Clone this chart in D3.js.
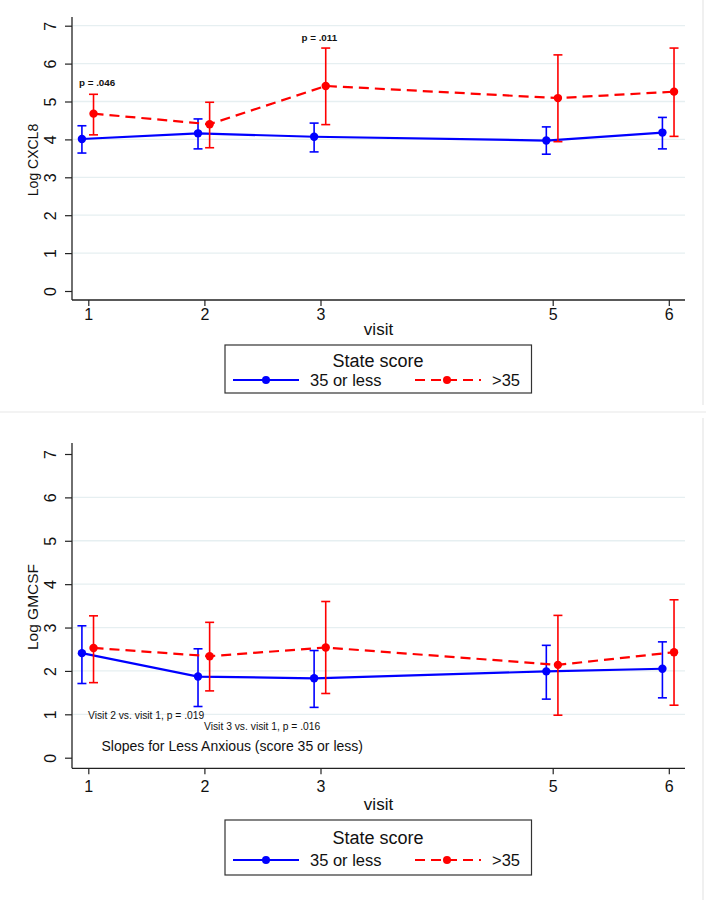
<!DOCTYPE html>
<html><head><meta charset="utf-8">
<script src="https://cdn.jsdelivr.net/npm/d3@7"></script>
<style>body{margin:0;background:#fff;}svg{display:block;font-family:"Liberation Sans",Arial,sans-serif;}</style>
</head><body>
<script>
const visits = [1, 2, 3, 5, 6];
const yTicks = [0, 1, 2, 3, 4, 5, 6, 7];
const seriesNames = ["35 or less", ">35"];
const legendTitle = "State score";

// Panel 1: Log CXCL8
const cxcl8Low    = [4.01, 4.16, 4.07, 3.97, 4.18];
const cxcl8LowLo  = [3.64, 3.75, 3.67, 3.61, 3.75];
const cxcl8LowHi  = [4.36, 4.54, 4.43, 4.33, 4.58];
const cxcl8High   = [4.68, 4.40, 5.41, 5.09, 5.26];
const cxcl8HighLo = [4.12, 3.78, 4.39, 3.94, 4.08];
const cxcl8HighHi = [5.19, 4.98, 6.41, 6.23, 6.41];

// Panel 2: Log GMCSF
const gmcsfLow    = [2.41, 1.87, 1.83, 1.99, 2.05];
const gmcsfLowLo  = [1.71, 1.18, 1.16, 1.35, 1.38];
const gmcsfLowHi  = [3.04, 2.51, 2.47, 2.59, 2.67];
const gmcsfHigh   = [2.53, 2.34, 2.54, 2.14, 2.43];
const gmcsfHighLo = [1.73, 1.54, 1.48, 0.98, 1.21];
const gmcsfHighHi = [3.27, 3.12, 3.60, 3.28, 3.64];

const svg = d3.select("body").append("svg").attr("width", 706).attr("height", 900);

// faint panel frame lines
svg.append("line").attr("x1", 703).attr("x2", 703).attr("y1", 0).attr("y2", 405).attr("stroke", "#f0f0f0").attr("stroke-width", 2);
svg.append("line").attr("x1", 0).attr("x2", 706).attr("y1", 412).attr("y2", 412).attr("stroke", "#f3f3f3").attr("stroke-width", 2);
svg.append("line").attr("x1", 703).attr("x2", 703).attr("y1", 418).attr("y2", 900).attr("stroke", "#f0f0f0").attr("stroke-width", 2);

function drawPanel(o) {
  const g = svg.append("g");
  const x = d3.scaleLinear().domain([1, 6]).range([88.3, 668.8]);
  const y = d3.scaleLinear().domain([0, 7]).range([o.y0, o.y7]);
  const xLeft = 72, xRight = 685;

  // gridlines
  g.append("g").selectAll("line").data(o.grid).join("line")
    .attr("x1", xLeft + 1).attr("x2", xRight)
    .attr("y1", d => y(d)).attr("y2", d => y(d))
    .attr("stroke", "#e6eff1").attr("stroke-width", 1.3);

  // y axis
  const ya = g.append("g").attr("transform", `translate(${xLeft},0)`)
    .call(d3.axisLeft(y).tickValues(yTicks).tickSize(7).tickPadding(0).tickFormat(d3.format("d")));
  ya.select(".domain").attr("d", `M0,${o.axisTop}V${o.axisBottom}`).attr("stroke", "#222").attr("stroke-width", 1.3);
  ya.selectAll(".tick line").attr("stroke", "#222").attr("stroke-width", 1.2);
  ya.selectAll(".tick text").attr("font-size", 16).attr("fill", "#111")
    .attr("text-anchor", "middle").attr("dy", 0).attr("x", 0)
    .attr("transform", "translate(-21.5,0) rotate(-90)").attr("dominant-baseline", "central");

  // x axis
  const xa = g.append("g").attr("transform", `translate(0,${o.axisBottom})`)
    .call(d3.axisBottom(x).tickValues(visits).tickSize(6).tickPadding(o.xPad).tickFormat(d3.format("d")));
  xa.select(".domain").attr("d", `M${xLeft},0H${xRight}`).attr("stroke", "#222").attr("stroke-width", 1.3);
  xa.selectAll(".tick line").attr("stroke", "#222").attr("stroke-width", 1.2);
  xa.selectAll(".tick text").attr("font-size", 16).attr("fill", "#111");

  // axis titles
  g.append("text").attr("transform", `translate(37.5,${o.labelY}) rotate(-90)`)
    .attr("text-anchor", "middle").attr("font-size", o.yLabelSize).attr("fill", "#111").text(o.yLabel);
  g.append("text").attr("x", 378.5).attr("y", o.visitY).attr("text-anchor", "middle")
    .attr("font-size", 17).attr("fill", "#111").text("visit");

  const series = [
    {name: seriesNames[0], v: o.low, lo: o.lowLo, hi: o.lowHi, color: "#0000ff", off: -0.055, dash: null},
    {name: seriesNames[1], v: o.high, lo: o.highLo, hi: o.highHi, color: "#ff0000", off: 0.045, dash: "10,6"}
  ];
  const line = d3.line().x(d => x(d[0])).y(d => y(d[1]));
  series.forEach(s => {
    const pts = visits.map((v, i) => [v + s.off, s.v[i], s.lo[i], s.hi[i]]);
    g.append("path").datum(pts).attr("d", line).attr("fill", "none")
      .attr("stroke", s.color).attr("stroke-width", 2.2)
      .attr("stroke-dasharray", s.dash);
    const eb = g.append("g").attr("stroke", s.color).attr("stroke-width", 1.6);
    pts.forEach(p => {
      const cx = x(p[0]);
      eb.append("line").attr("x1", cx).attr("x2", cx).attr("y1", y(p[2])).attr("y2", y(p[3]));
      eb.append("line").attr("x1", cx - 4.5).attr("x2", cx + 4.5).attr("y1", y(p[2])).attr("y2", y(p[2]));
      eb.append("line").attr("x1", cx - 4.5).attr("x2", cx + 4.5).attr("y1", y(p[3])).attr("y2", y(p[3]));
    });
    g.append("g").selectAll("circle").data(pts).join("circle")
      .attr("cx", d => x(d[0])).attr("cy", d => y(d[1])).attr("r", 4.2).attr("fill", s.color);
  });

  // annotations
  o.notes.forEach(n => {
    g.append("text").attr("x", n.x).attr("y", n.y).attr("font-size", n.size)
      .attr("font-weight", n.bold ? "bold" : "normal").attr("fill", "#111").text(n.text);
  });

  // legend
  const L = g.append("g").attr("transform", `translate(0,${o.legTop})`);
  L.append("rect").attr("x", 225).attr("y", 0).attr("width", 306.5).attr("height", o.legH)
    .attr("fill", "#fff").attr("stroke", "#333").attr("stroke-width", 1.2);
  L.append("text").attr("x", 378).attr("y", o.legTitleY).attr("text-anchor", "middle")
    .attr("font-size", 18).attr("fill", "#111").text(legendTitle);
  const ly = o.legLineY;
  L.append("line").attr("x1", 233).attr("x2", 299).attr("y1", ly).attr("y2", ly)
    .attr("stroke", series[0].color).attr("stroke-width", 2.2);
  L.append("circle").attr("cx", 266).attr("cy", ly).attr("r", 4).attr("fill", series[0].color);
  L.append("text").attr("x", 310).attr("y", ly + 5.5).attr("font-size", 16.5).attr("fill", "#111").text(series[0].name);
  L.append("line").attr("x1", 415).attr("x2", 481).attr("y1", ly).attr("y2", ly)
    .attr("stroke", series[1].color).attr("stroke-width", 2.2).attr("stroke-dasharray", "10,6");
  L.append("circle").attr("cx", 447).attr("cy", ly).attr("r", 4).attr("fill", series[1].color);
  L.append("text").attr("x", 492).attr("y", ly + 5.5).attr("font-size", 16.5).attr("fill", "#111").text(series[1].name);
}

drawPanel({
  y0: 291, y7: 25.7, axisTop: 17, axisBottom: 300, labelY: 160, yLabel: "Log CXCL8", yLabelSize: 14,
  xPad: 2.2, visitY: 335,
  grid: [1, 2, 3, 4, 5, 6, 7],
  low: cxcl8Low, lowLo: cxcl8LowLo, lowHi: cxcl8LowHi,
  high: cxcl8High, highLo: cxcl8HighLo, highHi: cxcl8HighHi,
  notes: [
    {x: 79, y: 86, text: "p = .046", size: 9.8, bold: true},
    {x: 301.5, y: 41, text: "p = .011", size: 9.8, bold: true}
  ],
  legTop: 345, legH: 48, legTitleY: 21.5, legLineY: 35
});

drawPanel({
  y0: 757.7, y7: 454, axisTop: 443, axisBottom: 768.3, labelY: 607, yLabel: "Log GMCSF", yLabelSize: 15.5,
  xPad: 6.2, visitY: 810,
  grid: [1, 2, 3, 4, 5, 6],
  low: gmcsfLow, lowLo: gmcsfLowLo, lowHi: gmcsfLowHi,
  high: gmcsfHigh, highLo: gmcsfHighLo, highHi: gmcsfHighHi,
  notes: [
    {x: 88, y: 719, text: "Visit 2 vs. visit 1, p = .019", size: 10.3, bold: false},
    {x: 204, y: 730, text: "Visit 3 vs. visit 1, p = .016", size: 10.3, bold: false},
    {x: 101.5, y: 751, text: "Slopes for Less Anxious (score 35 or less)", size: 14, bold: false}
  ],
  legTop: 820, legH: 55, legTitleY: 23.5, legLineY: 40
});
</script>
</body></html>
